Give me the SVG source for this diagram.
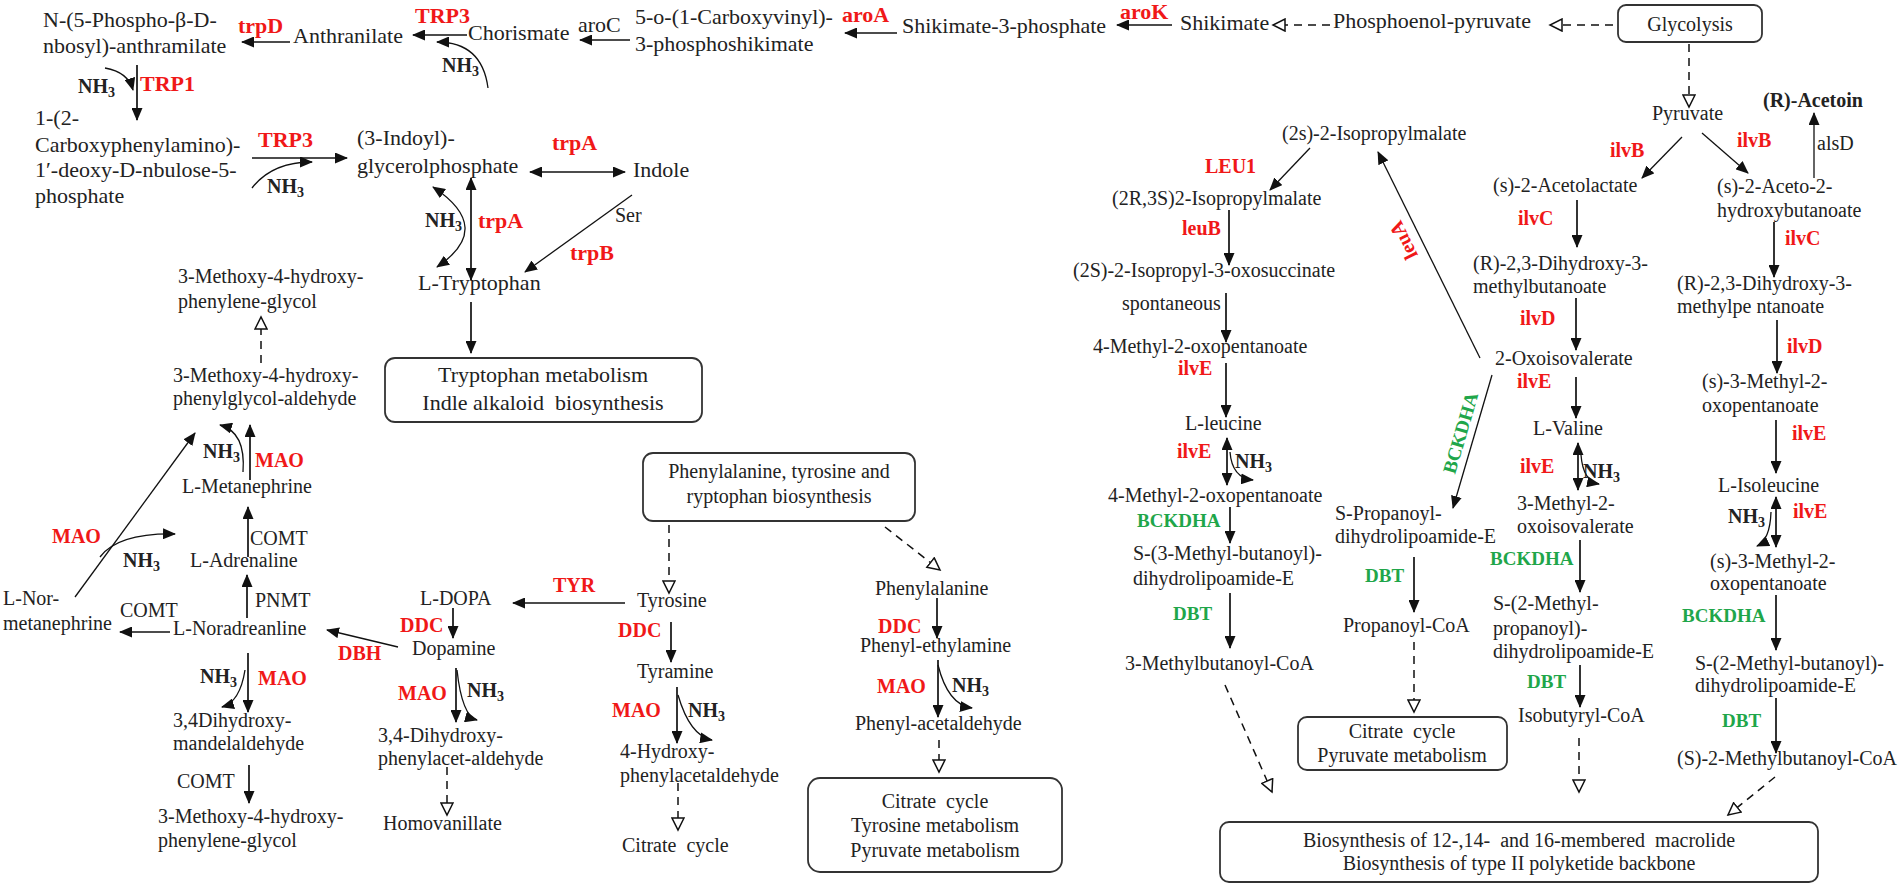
<svg xmlns="http://www.w3.org/2000/svg" width="1902" height="885" viewBox="0 0 1902 885">
<defs>
<style>
text{font-family:"Liberation Serif","Times New Roman",serif;fill:#222}
.a{font-size:22px}
.b{font-size:20px}
.r{font-size:20px;font-weight:bold;fill:#f01818}
.rb{font-size:22px;font-weight:bold;fill:#f01818}
.g{font-size:19px;font-weight:bold;fill:#1fa64a}
.nh{font-size:20px;font-weight:bold}
.bx{fill:#fff;stroke:#333;stroke-width:1.8}
.c line,.c path{fill:none;stroke:#111;stroke-width:1.7}
.c .d{stroke-dasharray:8 6;stroke-width:1.5}
.c .f{marker-end:url(#ah)}
.c .o{marker-end:url(#oh)}
.c .dd{marker-start:url(#ah);marker-end:url(#ah)}
.c .t{stroke-width:1.3}
</style>
<marker id="ah" markerUnits="userSpaceOnUse" markerWidth="13" markerHeight="11" refX="12" refY="5.5" orient="auto-start-reverse"><path d="M0,0 L13,5.5 L0,11 z" fill="#111"/></marker>
<marker id="oh" markerUnits="userSpaceOnUse" markerWidth="15" markerHeight="14" refX="13" refY="7" orient="auto"><path d="M1,1 L13,7 L1,13 z" fill="#fff" stroke="#111" stroke-width="1.5"/></marker>
</defs>
<rect width="1902" height="885" fill="#fff"/>

<g class="c" id="connectors">
<line class="f" x1="290" y1="42" x2="242" y2="42"/>
<line class="f" x1="467" y1="35" x2="413" y2="35"/>
<path class="f t" d="M488,88 Q482,42 437,42"/>
<line class="f" x1="630" y1="40" x2="580" y2="40"/>
<line class="f" x1="897" y1="33" x2="845" y2="33"/>
<line class="f" x1="1172" y1="25" x2="1117" y2="25"/>
<line class="d o" x1="1330" y1="25" x2="1273" y2="25"/>
<line class="d o" x1="1613" y1="25" x2="1550" y2="25"/>
<line class="d o" x1="1689" y1="44" x2="1689" y2="107"/>
<line class="f t" x1="1682" y1="137" x2="1642" y2="178"/>
<line class="f t" x1="1702" y1="133" x2="1748" y2="173"/>
<line class="f t" x1="1814" y1="178" x2="1814" y2="113"/>
<line class="f" x1="1577" y1="200" x2="1577" y2="247"/>
<line class="f" x1="1774" y1="222" x2="1774" y2="277"/>
<line class="f" x1="1576" y1="298" x2="1576" y2="350"/>
<line class="f" x1="1777" y1="320" x2="1777" y2="373"/>
<line class="f" x1="1576" y1="377" x2="1576" y2="418"/>
<line class="dd" x1="1578" y1="443" x2="1578" y2="490"/>
<path class="f t" d="M1581,455 Q1583,481 1599,484"/>
<line class="f" x1="1580" y1="540" x2="1580" y2="592"/>
<line class="f" x1="1580" y1="665" x2="1580" y2="707"/>
<line class="d o" x1="1579" y1="738" x2="1579" y2="792"/>
<line class="f" x1="1776" y1="420" x2="1776" y2="473"/>
<line class="dd" x1="1776" y1="497" x2="1776" y2="547"/>
<path class="f t" d="M1771,512 Q1770,540 1757,546"/>
<line class="f" x1="1776" y1="595" x2="1776" y2="650"/>
<line class="f" x1="1776" y1="698" x2="1776" y2="753"/>
<line class="d o" x1="1775" y1="777" x2="1728" y2="815"/>
<line class="f t" x1="1480" y1="358" x2="1378" y2="152"/>
<line class="f t" x1="1492" y1="375" x2="1453" y2="508"/>
<line class="f" x1="1414" y1="557" x2="1414" y2="612"/>
<line class="d o" x1="1414" y1="642" x2="1414" y2="712"/>
<line class="f t" x1="1310" y1="148" x2="1270" y2="190"/>
<line class="f" x1="1229" y1="210" x2="1229" y2="265"/>
<line class="f" x1="1226" y1="293" x2="1226" y2="342"/>
<line class="f" x1="1226" y1="363" x2="1226" y2="417"/>
<line class="dd" x1="1227" y1="438" x2="1227" y2="485"/>
<path class="f t" d="M1230,452 Q1232,478 1253,480"/>
<line class="f" x1="1230" y1="507" x2="1230" y2="543"/>
<line class="f" x1="1230" y1="593" x2="1230" y2="648"/>
<line class="d o" x1="1225" y1="685" x2="1272" y2="792"/>
<line class="f" x1="137" y1="65" x2="137" y2="120"/>
<path class="f t" d="M105,68 Q128,72 133,90"/>
<line class="f" x1="252" y1="158" x2="347" y2="158"/>
<path class="f t" d="M252,188 Q272,162 312,162"/>
<line class="dd" x1="530" y1="172" x2="625" y2="172"/>
<line class="f t" x1="632" y1="195" x2="525" y2="272"/>
<line class="dd" x1="471" y1="178" x2="471" y2="280"/>
<path class="dd t" d="M433,187 Q495,228 437,267"/>
<line class="f" x1="471" y1="302" x2="471" y2="353"/>
<line class="d o" x1="261" y1="363" x2="261" y2="317"/>
<line class="f" x1="250" y1="480" x2="250" y2="425"/>
<path class="f t" d="M243,472 Q246,432 220,425"/>
<line class="f" x1="248" y1="557" x2="248" y2="507"/>
<line class="f" x1="247" y1="618" x2="247" y2="575"/>
<line class="f t" x1="75" y1="597" x2="195" y2="433"/>
<path class="f t" d="M100,557 Q118,533 175,534"/>
<line class="f" x1="170" y1="632" x2="120" y2="632"/>
<line class="f t" x1="398" y1="647" x2="327" y2="630"/>
<line class="f" x1="248" y1="653" x2="248" y2="712"/>
<path class="f t" d="M245,670 Q240,702 222,707"/>
<line class="f" x1="249" y1="765" x2="249" y2="803"/>
<line class="f" x1="453" y1="608" x2="453" y2="638"/>
<line class="f" x1="456" y1="668" x2="456" y2="722"/>
<path class="f t" d="M457,670 Q462,716 477,720"/>
<line class="d o" x1="447" y1="767" x2="447" y2="815"/>
<line class="f" x1="625" y1="603" x2="513" y2="603"/>
<line class="d o" x1="669" y1="525" x2="669" y2="593"/>
<line class="d o" x1="885" y1="527" x2="940" y2="570"/>
<line class="f" x1="671" y1="622" x2="671" y2="662"/>
<line class="f" x1="677" y1="687" x2="677" y2="743"/>
<path class="f t" d="M678,695 Q690,736 712,740"/>
<line class="d o" x1="678" y1="783" x2="678" y2="830"/>
<line class="f" x1="937" y1="598" x2="937" y2="638"/>
<line class="f" x1="938" y1="660" x2="938" y2="717"/>
<path class="f t" d="M938,665 Q948,705 972,708"/>
<line class="d o" x1="939" y1="740" x2="939" y2="772"/>
</g>

<g id="labels">
<text class="rb" x="238" y="33">trpD</text>
<text class="rb" x="415" y="23">TRP3</text>
<text class="a" x="578" y="32">aroC</text>
<text class="rb" x="842" y="22">aroA</text>
<text class="rb" x="1120" y="19">aroK</text>
<text class="rb" x="140" y="91">TRP1</text>
<text class="rb" x="258" y="147">TRP3</text>
<text class="rb" x="552" y="150">trpA</text>
<text class="rb" x="478" y="228">trpA</text>
<text class="b" x="615" y="222">Ser</text>
<text class="rb" x="570" y="260">trpB</text>
<text class="r" x="255" y="467">MAO</text>
<text class="b" x="250" y="545">COMT</text>
<text class="r" x="52" y="543">MAO</text>
<text class="b" x="255" y="607">PNMT</text>
<text class="b" x="120" y="617">COMT</text>
<text class="r" x="258" y="685">MAO</text>
<text class="b" x="177" y="788">COMT</text>
<text class="r" x="400" y="632">DDC</text>
<text class="r" x="338" y="660">DBH</text>
<text class="r" x="398" y="700">MAO</text>
<text class="r" x="553" y="592">TYR</text>
<text class="r" x="618" y="637">DDC</text>
<text class="r" x="612" y="717">MAO</text>
<text class="r" x="878" y="633">DDC</text>
<text class="r" x="877" y="693">MAO</text>
<text class="r" x="1205" y="173">LEU1</text>
<text class="r" x="1182" y="235">leuB</text>
<text class="b" x="1122" y="310">spontaneous</text>
<text class="r" x="1178" y="375">ilvE</text>
<text class="r" x="1177" y="458">ilvE</text>
<text class="g" x="1137" y="527">BCKDHA</text>
<text class="g" x="1173" y="620">DBT</text>
<text class="r" transform="translate(1404,240) rotate(-116.3)" x="0" y="6" text-anchor="middle">leuA</text>
<text class="g" transform="translate(1461,433) rotate(-73.7)" x="0" y="6" text-anchor="middle">BCKDHA</text>
<text class="g" x="1365" y="582">DBT</text>
<text class="r" x="1610" y="157">ilvB</text>
<text class="r" x="1737" y="147">ilvB</text>
<text class="b" x="1817" y="150">alsD</text>
<text class="r" x="1518" y="225">ilvC</text>
<text class="r" x="1785" y="245">ilvC</text>
<text class="r" x="1520" y="325">ilvD</text>
<text class="r" x="1787" y="353">ilvD</text>
<text class="r" x="1517" y="388">ilvE</text>
<text class="r" x="1520" y="473">ilvE</text>
<text class="r" x="1792" y="440">ilvE</text>
<text class="r" x="1793" y="518">ilvE</text>
<text class="g" x="1490" y="565">BCKDHA</text>
<text class="g" x="1527" y="688">DBT</text>
<text class="g" x="1682" y="622">BCKDHA</text>
<text class="g" x="1722" y="727">DBT</text>
<text class="nh" x="442" y="72">NH<tspan font-size="14" dy="4">3</tspan></text>
<text class="nh" x="78" y="93">NH<tspan font-size="14" dy="4">3</tspan></text>
<text class="nh" x="267" y="193">NH<tspan font-size="14" dy="4">3</tspan></text>
<text class="nh" x="425" y="227">NH<tspan font-size="14" dy="4">3</tspan></text>
<text class="nh" x="203" y="458">NH<tspan font-size="14" dy="4">3</tspan></text>
<text class="nh" x="123" y="567">NH<tspan font-size="14" dy="4">3</tspan></text>
<text class="nh" x="200" y="683">NH<tspan font-size="14" dy="4">3</tspan></text>
<text class="nh" x="467" y="697">NH<tspan font-size="14" dy="4">3</tspan></text>
<text class="nh" x="688" y="717">NH<tspan font-size="14" dy="4">3</tspan></text>
<text class="nh" x="952" y="692">NH<tspan font-size="14" dy="4">3</tspan></text>
<text class="nh" x="1235" y="468">NH<tspan font-size="14" dy="4">3</tspan></text>
<text class="nh" x="1583" y="478">NH<tspan font-size="14" dy="4">3</tspan></text>
<text class="nh" x="1728" y="523">NH<tspan font-size="14" dy="4">3</tspan></text>
</g>

<g id="n_pra"><text class="a" x="43" y="27">N-(5-Phospho-β-D-<tspan x="43" dy="26">nbosyl)-anthramilate</tspan></text></g>
<g id="n_anth"><text class="a" x="293" y="43">Anthranilate</text></g>
<g id="n_chor"><text class="a" x="468" y="40">Chorismate</text></g>
<g id="n_cvps"><text class="a" x="635" y="24">5-o-(1-Carboxyvinyl)-<tspan x="635" dy="27">3-phosphoshikimate</tspan></text></g>
<g id="n_s3p"><text class="a" x="902" y="33">Shikimate-3-phosphate</text></g>
<g id="n_shik"><text class="a" x="1180" y="30">Shikimate</text></g>
<g id="n_pep"><text class="a" x="1333" y="28">Phosphoenol-pyruvate</text></g>
<g id="n_glyc"><rect class="bx" x="1618" y="5" width="144" height="37" rx="8"/><text class="b" x="1690" y="31" text-anchor="middle">Glycolysis</text></g>
<g id="n_pyr"><text class="b" x="1652" y="120">Pyruvate</text></g>
<g id="n_acetoin"><text class="b" x="1763" y="107" font-weight="bold">(R)-Acetoin</text></g>
<g id="n_acl"><text class="b" x="1493" y="192">(s)-2-Acetolactate</text></g>
<g id="n_ahb"><text class="b" x="1717" y="193">(s)-2-Aceto-2-<tspan x="1717" dy="24">hydroxybutanoate</tspan></text></g>
<g id="n_dhmb"><text class="b" x="1473" y="270">(R)-2,3-Dihydroxy-3-<tspan x="1473" dy="23">methylbutanoate</tspan></text></g>
<g id="n_dhmp"><text class="b" x="1677" y="290">(R)-2,3-Dihydroxy-3-<tspan x="1677" dy="23">methylpe ntanoate</tspan></text></g>
<g id="n_oxoiso"><text class="b" x="1495" y="365">2-Oxoisovalerate</text></g>
<g id="n_mop"><text class="b" x="1702" y="388">(s)-3-Methyl-2-<tspan x="1702" dy="24">oxopentanoate</tspan></text></g>
<g id="n_val"><text class="b" x="1533" y="435">L-Valine</text></g>
<g id="n_ile"><text class="b" x="1718" y="492">L-Isoleucine</text></g>
<g id="n_mov"><text class="b" x="1517" y="510">3-Methyl-2-<tspan x="1517" dy="23">oxoisovalerate</tspan></text></g>
<g id="n_mop2"><text class="b" x="1710" y="568">(s)-3-Methyl-2-<tspan x="1710" dy="22">oxopentanoate</tspan></text></g>
<g id="n_smp"><text class="b" x="1493" y="610">S-(2-Methyl-<tspan x="1493" dy="25">propanoyl)-</tspan><tspan x="1493" dy="23">dihydrolipoamide-E</tspan></text></g>
<g id="n_smb"><text class="b" x="1695" y="670">S-(2-Methyl-butanoyl)-<tspan x="1695" dy="22">dihydrolipoamide-E</tspan></text></g>
<g id="n_ibcoa"><text class="b" x="1518" y="722">Isobutyryl-CoA</text></g>
<g id="n_mbcoa"><text class="b" x="1677" y="765">(S)-2-Methylbutanoyl-CoA</text></g>
<g id="n_ipm"><text class="b" x="1282" y="140">(2s)-2-Isopropylmalate</text></g>
<g id="n_ipm2"><text class="b" x="1112" y="205">(2R,3S)2-Isopropylmalate</text></g>
<g id="n_oxs"><text class="b" x="1073" y="277">(2S)-2-Isopropyl-3-oxosuccinate</text></g>
<g id="n_4m2o"><text class="b" x="1093" y="353">4-Methyl-2-oxopentanoate</text></g>
<g id="n_leu"><text class="b" x="1185" y="430">L-leucine</text></g>
<g id="n_4m2o2"><text class="b" x="1108" y="502">4-Methyl-2-oxopentanoate</text></g>
<g id="n_smbu"><text class="b" x="1133" y="560">S-(3-Methyl-butanoyl)-<tspan x="1133" dy="25">dihydrolipoamide-E</tspan></text></g>
<g id="n_3mbcoa"><text class="b" x="1125" y="670">3-Methylbutanoyl-CoA</text></g>
<g id="n_sprop"><text class="b" x="1335" y="520">S-Propanoyl-<tspan x="1335" dy="23">dihydrolipoamide-E</tspan></text></g>
<g id="n_propcoa"><text class="b" x="1343" y="632">Propanoyl-CoA</text></g>
<g id="n_box_cp"><rect class="bx" x="1298" y="717" width="209" height="53" rx="9"/><text class="b" x="1402" y="738" text-anchor="middle" xml:space="preserve">Citrate  cycle</text><text class="b" x="1402" y="762" text-anchor="middle">Pyruvate metabolism</text></g>
<g id="n_box_macro"><rect class="bx" x="1220" y="822" width="598" height="60" rx="9"/><text class="b" x="1519" y="847" text-anchor="middle" xml:space="preserve">Biosynthesis of 12-,14-  and 16-membered  macrolide</text><text class="b" x="1519" y="870" text-anchor="middle">Biosynthesis of type II polyketide backbone</text></g>

<g id="n_cdrp"><text class="a" x="35" y="125">1-(2-<tspan x="35" dy="27">Carboxyphenylamino)-</tspan><tspan x="35" dy="25">1′-deoxy-D-nbulose-5-</tspan><tspan x="35" dy="26">phosphate</tspan></text></g>
<g id="n_igp"><text class="a" x="357" y="145">(3-Indoyl)-<tspan x="357" dy="28">glycerolphosphate</tspan></text></g>
<g id="n_indole"><text class="a" x="633" y="177">Indole</text></g>
<g id="n_trp"><text class="a" x="418" y="290">L-Tryptophan</text></g>
<g id="n_box_trp"><rect class="bx" x="385" y="358" width="317" height="64" rx="10"/><text class="a" x="543" y="382" text-anchor="middle">Tryptophan metabolism</text><text class="a" x="543" y="410" text-anchor="middle" xml:space="preserve">Indle alkaloid  biosynthesis</text></g>

<g id="n_mhpg1"><text class="b" x="178" y="283">3-Methoxy-4-hydroxy-<tspan x="178" dy="25">phenylene-glycol</tspan></text></g>
<g id="n_mopg"><text class="b" x="173" y="382">3-Methoxy-4-hydroxy-<tspan x="173" dy="23">phenylglycol-aldehyde</tspan></text></g>
<g id="n_metan"><text class="b" x="182" y="493">L-Metanephrine</text></g>
<g id="n_adr"><text class="b" x="190" y="567">L-Adrenaline</text></g>
<g id="n_normet"><text class="b" x="3" y="605">L-Nor-<tspan x="3" dy="25">metanephrine</tspan></text></g>
<g id="n_noradr"><text class="b" x="173" y="635">L-Noradreanline</text></g>
<g id="n_dhma"><text class="b" x="173" y="727">3,4Dihydroxy-<tspan x="173" dy="23">mandelaldehyde</tspan></text></g>
<g id="n_mhpg2"><text class="b" x="158" y="823">3-Methoxy-4-hydroxy-<tspan x="158" dy="24">phenylene-glycol</tspan></text></g>
<g id="n_dopa"><text class="b" x="420" y="605">L-DOPA</text></g>
<g id="n_dopamine"><text class="b" x="412" y="655">Dopamine</text></g>
<g id="n_dopal"><text class="b" x="378" y="742">3,4-Dihydroxy-<tspan x="378" dy="23">phenylacet-aldehyde</tspan></text></g>
<g id="n_hva"><text class="b" x="383" y="830">Homovanillate</text></g>
<g id="n_tyr"><text class="b" x="637" y="607">Tyrosine</text></g>
<g id="n_tyramine"><text class="b" x="637" y="678">Tyramine</text></g>
<g id="n_4hpa"><text class="b" x="620" y="758">4-Hydroxy-<tspan x="620" dy="24">phenylacetaldehyde</tspan></text></g>
<g id="n_cc"><text class="b" x="622" y="852" xml:space="preserve">Citrate  cycle</text></g>
<g id="n_box_phe"><rect class="bx" x="643" y="453" width="272" height="68" rx="10"/><text class="b" x="779" y="478" text-anchor="middle">Phenylalanine, tyrosine and</text><text class="b" x="779" y="503" text-anchor="middle">ryptophan biosynthesis</text></g>
<g id="n_phe"><text class="b" x="875" y="595">Phenylalanine</text></g>
<g id="n_pea"><text class="b" x="860" y="652">Phenyl-ethylamine</text></g>
<g id="n_paa"><text class="b" x="855" y="730">Phenyl-acetaldehyde</text></g>
<g id="n_box_ctp"><rect class="bx" x="808" y="778" width="254" height="94" rx="12"/><text class="b" x="935" y="808" text-anchor="middle" xml:space="preserve">Citrate  cycle</text><text class="b" x="935" y="832" text-anchor="middle">Tyrosine metabolism</text><text class="b" x="935" y="857" text-anchor="middle">Pyruvate metabolism</text></g>
</svg>
